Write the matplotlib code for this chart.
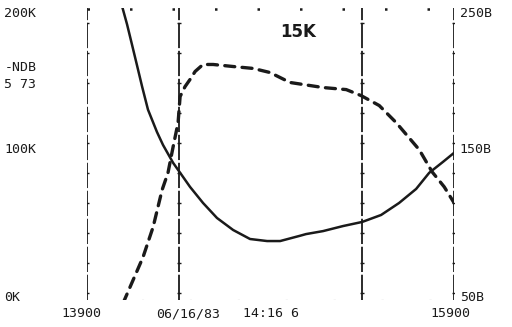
import numpy as np
import matplotlib.pyplot as plt

# solid trace, left scale (K)
solid_x = [14091, 14118, 14145, 14172, 14200, 14232, 14281, 14314, 14369,
           14423, 14461, 14532, 14608, 14696, 14788, 14881, 14952, 15061,
           15093, 15186, 15295, 15399, 15502, 15600, 15693, 15764, 15840,
           15900]
solid_k = [205.1, 191.9, 177.0, 162.0, 146.3, 129.4, 113.0, 103.5, 90.4,
           80.1, 72.8, 61.0, 50.0, 41.2, 34.6, 33.1, 33.1, 37.0,
           38.2, 40.4, 44.1, 47.1, 52.2, 61.0, 71.3, 83.1, 91.2,
           97.8]

# dashed trace, right scale (DB)
dash_x = [14096, 14205, 14260, 14309, 14341, 14369, 14396, 14407, 14434,
          14461, 14489, 14532, 14587, 14696, 14805, 14897, 15006, 15186,
          15312, 15393, 15492, 15584, 15710, 15780, 15846, 15900]
dash_db = [37.5, 71.3, 93.4, 120.6, 133.1, 152.2, 169.9, 189.0, 196.3,
           201.5, 207.4, 212.5, 212.5, 211.0, 209.6, 206.6, 199.3, 195.6,
           194.1, 189.7, 182.4, 169.9, 150.0, 133.8, 122.8, 111.0]

grid_x = [13900, 14400, 15400, 15900]
left_ticks = [0, 100, 200]
left_labels = ['0K', '100K', '200K']
right_ticks = [50, 150, 250]
right_labels = ['50B', '150B', '250B']
bottom_labels = ['13900', '06/16/83', '14:16 6', '15900']
bottom_pos = [13870, 14450, 14900, 15880]

INK = '#1a1a1a'
FONT = 'DejaVu Sans Mono'

fig = plt.figure(figsize=(5.12, 3.27), dpi=100)
ax = fig.add_axes([0.170, 0.083, 0.717, 0.893])
ax.set_xlim(13900, 15900)
ax.set_ylim(-10, 204)
ax.axis('off')

# vertical grid lines with little tick marks
tick_y = np.arange(-5, 200, 22)
for gx in grid_x:
    ax.plot([gx, gx], [-10, 204], color=INK, lw=1.3, dashes=(14, 1.5))
    ax.plot([gx] * len(tick_y), tick_y, ls='none', marker='_',
            ms=3, mew=1, color=INK)

# dotted top and bottom borders
ax.plot([13900, 15900], [203, 203], color=INK, lw=1.8, dashes=(1, 16))
ax.plot([14200, 15900], [-11, -11], color=INK, lw=1.5, dashes=(1, 22))

ax.plot(solid_x, solid_k, color=INK, lw=1.8, solid_joinstyle='round')

ax2 = ax.twinx()
ax2.set_ylim(40, 254)
ax2.axis('off')
ax2.plot(dash_x, dash_db, color=INK, lw=2.4, dashes=(3, 2.2),
         dash_capstyle='round')

# left labels
for v, lab in zip(left_ticks, left_labels):
    y = v if v > 0 else -8
    ax.text(13450, y, lab, ha='left', va='center', fontsize=9.5,
            family=FONT, color=INK)
ax.text(13450, 160, '-NDB', ha='left', va='center', fontsize=9.5,
        family=FONT, color=INK)
ax.text(13450, 148, '5 73', ha='left', va='center', fontsize=9.5,
        family=FONT, color=INK)

# right labels
for v, lab in zip(right_ticks, right_labels):
    y = v if v > 50 else 42
    ax2.text(15930, y, lab, ha='left', va='center', fontsize=9.5,
             family=FONT, color=INK)

for pos, lab in zip(bottom_pos, bottom_labels):
    ax.text(pos, -20, lab, ha='center', va='center', fontsize=9.5,
            family=FONT, color=INK)

ax.text(15050, 186, '15K', ha='center', va='center', fontsize=12,
        fontweight='bold', color=INK)

fig.savefig('out.png', dpi=100, facecolor='white')
